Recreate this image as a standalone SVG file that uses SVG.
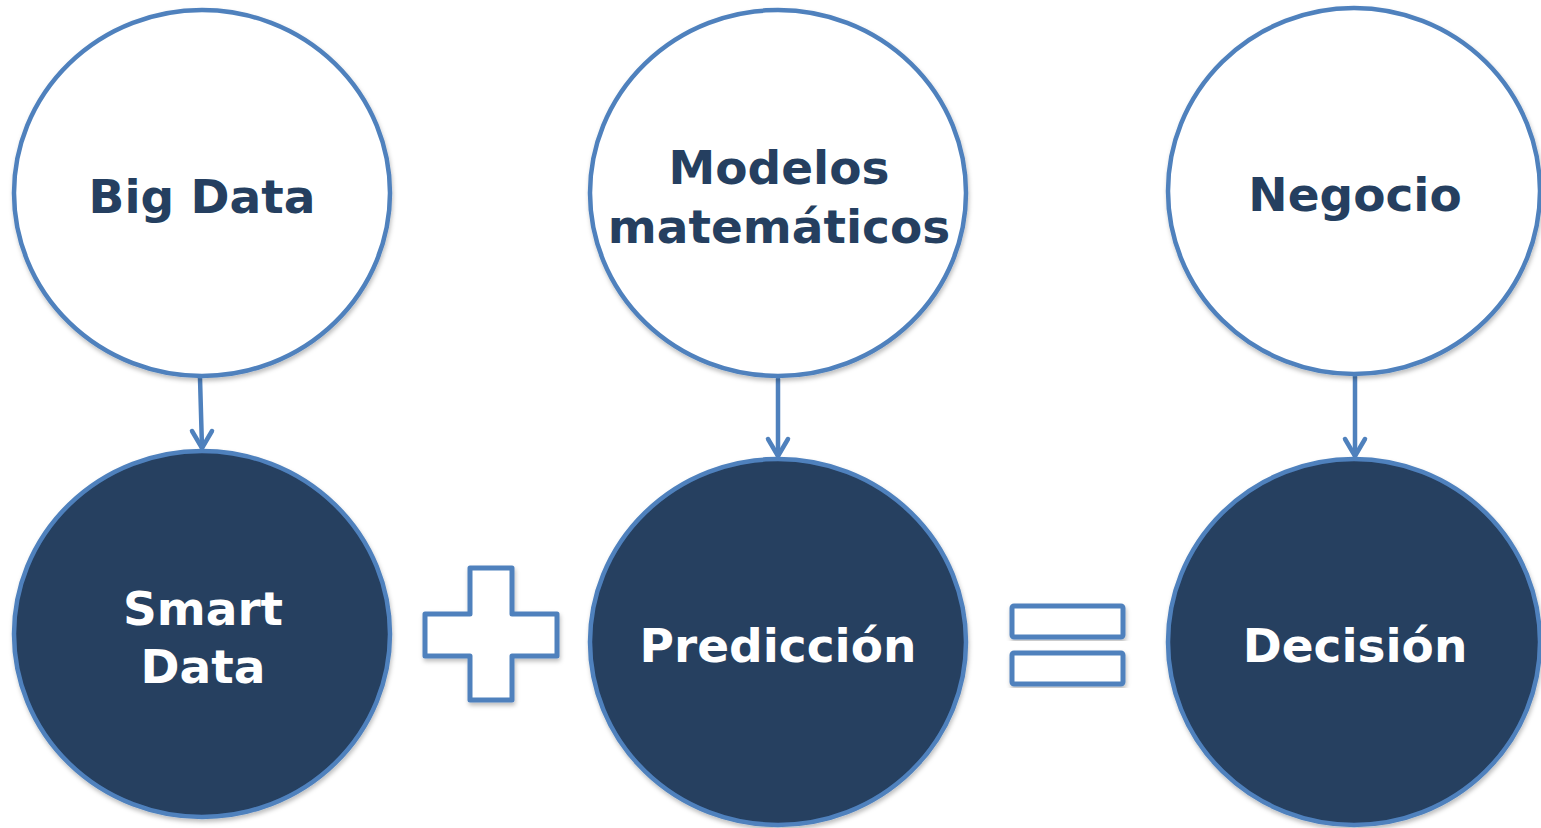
<svg xmlns="http://www.w3.org/2000/svg" width="1541" height="828" viewBox="0 0 1541 828">
<defs>
<filter id="sh" x="-10%" y="-10%" width="120%" height="120%">
<feDropShadow dx="1" dy="3" stdDeviation="2" flood-color="#000" flood-opacity="0.25"/>
</filter>
</defs>
<style>
.top{fill:#ffffff;stroke:#4f81bd;stroke-width:4.5;filter:url(#sh)}
.bot{fill:#253f60;stroke:#4f81bd;stroke-width:4.5;filter:url(#sh)}
.sym{fill:#ffffff;stroke:#4f81bd;stroke-width:5;stroke-linejoin:round;filter:url(#sh)}
.tl{font-family:"DejaVu Sans",Verdana,sans-serif;font-weight:bold;font-size:47px;text-anchor:middle;fill:#253f60}
.bl{font-family:"DejaVu Sans",Verdana,sans-serif;font-weight:bold;font-size:47px;text-anchor:middle;fill:#ffffff}
.ln{fill:none;stroke:#4f81bd;stroke-width:4.5;stroke-linecap:round;stroke-linejoin:round}
</style>
<g id="connectors">
<path class="ln" d="M200 378 L202 448"/>
<path class="ln" d="M192 431 L202 448 L212 431"/>
<path class="ln" d="M778 379 L778 456"/>
<path class="ln" d="M768 439 L778 456 L788 439"/>
<path class="ln" d="M1355 376 L1355 456"/>
<path class="ln" d="M1345 439 L1355 456 L1365 439"/>
</g>
<g id="bigdata">
<ellipse class="top" cx="202" cy="193" rx="188" ry="183"/>
<text class="tl" x="202" y="213">Big Data</text>
</g>
<g id="modelos">
<ellipse class="top" cx="778" cy="193" rx="188" ry="183"/>
<text class="tl" x="779" y="184">Modelos</text>
<text class="tl" x="779" y="243">matemáticos</text>
</g>
<g id="negocio">
<ellipse class="top" cx="1354" cy="191" rx="186" ry="183"/>
<text class="tl" x="1355" y="211">Negocio</text>
</g>
<g id="smartdata">
<ellipse class="bot" cx="202" cy="634" rx="188" ry="183"/>
<text class="bl" x="203" y="625">Smart</text>
<text class="bl" x="203" y="683">Data</text>
</g>
<g id="prediccion">
<ellipse class="bot" cx="778" cy="642" rx="188" ry="183"/>
<text class="bl" x="778" y="662">Predicción</text>
</g>
<g id="decision">
<ellipse class="bot" cx="1354" cy="642" rx="186" ry="183"/>
<text class="bl" x="1355" y="662">Decisión</text>
</g>
<g id="plus">
<path class="sym" d="M470 568 L512 568 L512 614 L557 614 L557 656 L512 656 L512 700 L470 700 L470 656 L425 656 L425 614 L470 614 Z"/>
</g>
<g id="equals">
<rect class="sym" x="1012" y="606" width="111" height="31" rx="2"/>
<rect class="sym" x="1012" y="653" width="111" height="31" rx="2"/>
</g>
</svg>
